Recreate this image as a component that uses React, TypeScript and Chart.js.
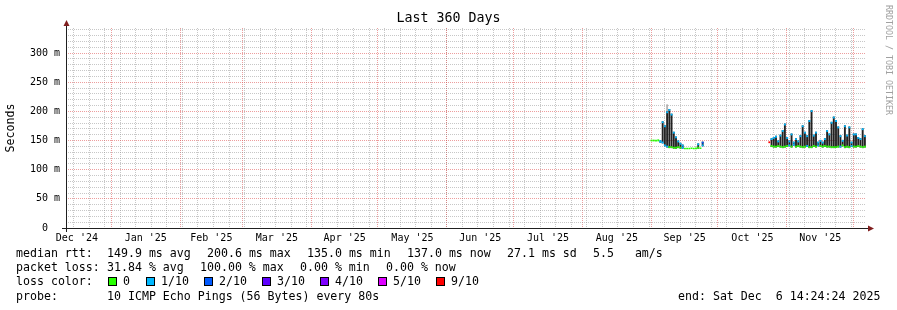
import React, { useEffect, useRef } from "react";
import { Chart, registerables } from "chart.js";

Chart.register(...registerables);

const W = 897;
const H = 310;
const MONO = "'DejaVu Sans Mono', 'Liberation Mono', monospace";

// ---------------- texts ----------------
const TITLE = "Last 360 Days";
const Y_TITLE = "Seconds";
const WATERMARK = "RRDTOOL / TOBI OETIKER";
const MEDIAN_HEAD = "median rtt:";
const MEDIAN_STATS = ["149.9 ms avg", "200.6 ms max", "135.0 ms min", "137.0 ms now", "27.1 ms sd", "5.5   am/s"];
const LOSS_HEAD = "packet loss:";
const LOSS_STATS = ["31.84 % avg", "100.00 % max", "0.00 % min", "0.00 % now"];
const COLOR_HEAD = "loss color:";
const LOSS_LABELS = ["0", "1/10", "2/10", "3/10", "4/10", "5/10", "9/10"];
const LOSS_COLORS = ["#26ff00", "#00b8ff", "#0059ff", "#5e00ff", "#7e00ff", "#dd00ff", "#ff0000"];
const PROBE_HEAD = "probe:";
const PROBE_TEXT = "10 ICMP Echo Pings (56 Bytes) every 80s";
const END_TEXT = "end: Sat Dec  6 14:24:24 2025";

// ---------------- axes ----------------
const START = Date.UTC(2024, 11, 11, 14, 24, 24);
const DAY_MS = 86400000;
const SPAN_DAYS = 360;
const Y_MAX = 342.86;
const MONTHS: [number, number][] = [
  [2024, 11], [2025, 0], [2025, 1], [2025, 2], [2025, 3], [2025, 4],
  [2025, 5], [2025, 6], [2025, 7], [2025, 8], [2025, 9], [2025, 10],
];
const MONTH_LABELS = ["Dec '24", "Jan '25", "Feb '25", "Mar '25", "Apr '25", "May '25", "Jun '25", "Jul '25", "Aug '25", "Sep '25", "Oct '25", "Nov '25"];
const Y_TICKS = [0, 10, 20, 30, 40, 50, 60, 70, 80, 90, 100, 110, 120, 130, 140, 150, 160, 170, 180, 190, 200, 210, 220, 230, 240, 250, 260, 270, 280, 290, 300, 310, 320, 330, 340];

// ---------------- data (day index since start, rtt in ms) ----------------
const DAYS = [
  263, 264, 265, 266, 267, 268, 269, 270, 271, 272, 273, 274, 275, 276, 277, 278, 279, 280, 281, 282, 283, 284, 285, 286,
  316, 317, 318, 319, 320, 321, 322, 323, 324, 325, 326, 327, 328, 329, 330, 331, 332, 333, 334, 335, 336, 337, 338, 339,
  340, 341, 342, 343, 344, 345, 346, 347, 348, 349, 350, 351, 352, 353, 354, 355, 356, 357, 358, 359,
];
const RTT_LOW = [
  148.5, 148.5, 148.5, 148.5, 146, 145, 140, 138, 137, 137, 136, 136, 137, 136, 136, 135, 135, 135, 135.5, 135, 135, 136, 135.5, 140,
  145.5, 139, 138, 138, 139, 138, 137, 138, 139, 140, 138, 141, 138, 139, 138, 137, 138, 139, 137, 137, 139, 138, 140, 139,
  138, 139, 138, 138, 137, 137, 137, 138, 138, 140, 137, 138, 137, 139, 138, 138, 139, 138, 137, 138,
];
const RTT_HIGH = [
  151.5, 151.5, 151.5, 152, 150.5, 183, 176, 200, 204, 196, 165, 157, 150, 146, 143, 137.5, 137.5, 137.5, 138, 137.5, 138, 145, 138, 148,
  148.5, 154, 156, 158, 150, 160, 168, 179, 156, 150, 162, 148, 154, 150, 159, 176, 165, 159, 185, 202, 160, 165, 148, 151,
  148, 154, 168, 162, 182, 191, 185, 174, 159, 151, 176, 160, 174, 148, 162, 162, 156, 154, 171, 159,
];
const LOSS_TOP = [
  0, 0, 0, 0, 1, 1, 1, 1, 1, 1, 1, 1, 1, 1, 1, 0, 0, 0, 0, 0, 0, 1, 0, 2,
  6, 1, 1, 1, 1, 1, 1, 1, 1, 1, 1, 1, 1, 1, 1, 1, 1, 1, 1, 1, 1, 1, 1, 1,
  1, 1, 1, 1, 1, 1, 1, 1, 1, 1, 1, 1, 1, 1, 1, 1, 1, 1, 1, 1,
];
const LOSS_BOTTOM = [
  0, 0, 0, 0, 1, 1, 1, 1, 0, 0, 0, 0, 0, 0, 1, 0, 0, 0, 0, 0, 0, 0, 0, 1,
  6, 0, 0, 0, 0, 0, 0, 0, 0, 1, 0, 1, 0, 0, 0, 0, 0, 1, 0, 0, 0, 0, 1, 0,
  0, 0, 0, 0, 0, 0, 0, 0, 1, 0, 0, 0, 0, 1, 0, 0, 0, 0, 0, 0,
];
const SMOKE_PEAK_DAYS = [270];
const SMOKE_PEAK = [212];

// ---------------- layout constants ----------------
const PLOT_LEFT = 66;
const PLOT_TOP = 28;
const PLOT_RIGHT_PAD = 31;
const X_AXIS_HEIGHT = 82;
const LINE_Y = [254, 268, 282, 296.5];
const HEAD_X = 16;
const MEDIAN_X = [107, 207, 307, 407, 507, 593];
const LOSS_X = [107, 200, 300, 386];
const SWATCH_X = [108, 146, 204, 262, 320, 378, 436];
const END_X = 678;

const MINOR_GRID = "rgba(143,143,143,0.5)";
const MAJOR_GRID = "rgba(222,79,79,0.55)";
const AXIS_COLOR = "#1f1f1f";
const ARROW_COLOR = "#801f1f";
const SMOKE_COLOR = "#222222";
const SMOKE_LIGHT = "#b4b4b4";

const dayOf = (y: number, m: number, d: number) => (Date.UTC(y, m, d) - START) / DAY_MS;

export default function App() {
  const ref = useRef<HTMLCanvasElement>(null);

  useEffect(() => {
    const canvas = ref.current;
    if (!canvas) return;

    const monthMid = MONTHS.map(([y, m]) => (dayOf(y, m, 1) + dayOf(y, m + 1, 1)) / 2);
    const monthStarts: number[] = [];
    for (let k = 0; k < 13; k++) {
      const d = dayOf(2025, k, 1);
      if (d > 0 && d < SPAN_DAYS) monthStarts.push(d);
    }
    const sundays: number[] = [];
    for (let d = dayOf(2024, 11, 15); d < SPAN_DAYS; d += 7) sundays.push(d);

    const capH = 3.2;
    const topCaps = DAYS.map((d, i) => {
      const lo = RTT_LOW[i], hi = RTT_HIGH[i];
      return { x: d + 0.5, y: hi - lo <= 4 ? [lo, hi] : [hi - capH, hi] };
    });
    const topColors = LOSS_TOP.map((c) => LOSS_COLORS[c]);
    const botIdx = DAYS.map((_, i) => i).filter((i) => LOSS_BOTTOM[i] >= 0 && RTT_HIGH[i] - RTT_LOW[i] > 4);
    const botCaps = botIdx.map((i) => ({ x: DAYS[i] + 0.5, y: [RTT_LOW[i], RTT_LOW[i] + capH] }));
    const botColors = botIdx.map((i) => LOSS_COLORS[LOSS_BOTTOM[i]]);
    const smokeIdx = DAYS.map((_, i) => i).filter((i) => RTT_HIGH[i] - RTT_LOW[i] > 4);
    const smoke = smokeIdx.map((i) => ({ x: DAYS[i] + 0.5, y: [RTT_LOW[i], RTT_HIGH[i]] }));
    const peaks = SMOKE_PEAK_DAYS.map((d, i) => {
      const j = DAYS.indexOf(d);
      return { x: d + 0.5, y: [RTT_HIGH[j] - 2, SMOKE_PEAK[i]] };
    });

    const decor = {
      id: "decor",
      afterDatasetsDraw(chart: any) {
        const { ctx, chartArea } = chart;
        const { left, right, top, bottom } = chartArea;
        ctx.save();
        ctx.strokeStyle = AXIS_COLOR;
        ctx.lineWidth = 1;
        ctx.beginPath();
        ctx.moveTo(left - 4, bottom + 0.5);
        ctx.lineTo(right + 4, bottom + 0.5);
        ctx.moveTo(left + 0.5, bottom + 4);
        ctx.lineTo(left + 0.5, top - 4);
        ctx.stroke();
        ctx.fillStyle = ARROW_COLOR;
        ctx.beginPath();
        ctx.moveTo(right + 2, bottom - 3 + 0.5);
        ctx.lineTo(right + 2, bottom + 3 + 0.5);
        ctx.lineTo(right + 8, bottom + 0.5);
        ctx.closePath();
        ctx.fill();
        ctx.beginPath();
        ctx.moveTo(left - 3 + 0.5, top - 2);
        ctx.lineTo(left + 3 + 0.5, top - 2);
        ctx.lineTo(left + 0.5, top - 8);
        ctx.closePath();
        ctx.fill();
        ctx.restore();
      },
      afterDraw(chart: any) {
        const { ctx } = chart;
        ctx.save();
        ctx.fillStyle = "#000";
        ctx.textBaseline = "middle";
        ctx.font = `13.3px ${MONO}`;
        ctx.textAlign = "center";
        ctx.fillText(TITLE, W / 2, 19);
        ctx.textAlign = "left";
        ctx.font = `11.6px ${MONO}`;
        ctx.fillText(MEDIAN_HEAD, HEAD_X, LINE_Y[0]);
        MEDIAN_STATS.forEach((t, i) => ctx.fillText(t, MEDIAN_X[i], LINE_Y[0]));
        ctx.fillText(LOSS_HEAD, HEAD_X, LINE_Y[1]);
        LOSS_STATS.forEach((t, i) => ctx.fillText(t, LOSS_X[i], LINE_Y[1]));
        ctx.fillText(COLOR_HEAD, HEAD_X, LINE_Y[2]);
        LOSS_LABELS.forEach((t, i) => {
          const x = SWATCH_X[i];
          ctx.fillStyle = "#000";
          ctx.fillRect(x, LINE_Y[2] - 5, 9, 9);
          ctx.fillStyle = LOSS_COLORS[i];
          ctx.fillRect(x + 1, LINE_Y[2] - 4, 7, 7);
          ctx.fillStyle = "#000";
          ctx.fillText(t, x + 15, LINE_Y[2]);
        });
        ctx.fillText(PROBE_HEAD, HEAD_X, LINE_Y[3]);
        ctx.fillText(PROBE_TEXT, MEDIAN_X[0], LINE_Y[3]);
        ctx.fillText(END_TEXT, END_X, LINE_Y[3]);
        ctx.save();
        ctx.translate(888, 5);
        ctx.rotate(Math.PI / 2);
        ctx.font = `8.3px ${MONO}`;
        ctx.fillStyle = "#a0a0a0";
        ctx.textAlign = "left";
        ctx.fillText(WATERMARK, 0, 0);
        ctx.restore();
        ctx.restore();
      },
    };

    const hiddenX = (ticks: number[], color: string) => ({
      type: "linear" as const,
      axis: "x" as const,
      position: "bottom" as const,
      min: 0,
      max: SPAN_DAYS,
      offset: false,
      afterBuildTicks: (s: any) => {
        s.ticks = ticks.map((v) => ({ value: v }));
      },
      afterFit: (s: any) => {
        s.height = 0;
      },
      grid: { color, lineWidth: 1, drawTicks: false, tickLength: 0, offset: false },
      border: { display: false, dash: [1, 1] },
      ticks: { display: false, autoSkip: false },
    });

    const chart = new Chart(canvas, {
      type: "bar",
      data: {
        datasets: [
          { label: "median top", data: topCaps as any, backgroundColor: topColors, order: 0 },
          { label: "median bottom", data: botCaps as any, backgroundColor: botColors, order: 0 },
          { label: "smoke", data: smoke as any, backgroundColor: SMOKE_COLOR, order: 1 },
          { label: "smoke peak", data: peaks as any, backgroundColor: SMOKE_LIGHT, order: 2 },
        ],
      },
      options: {
        animation: false,
        responsive: false,
        maintainAspectRatio: false,
        devicePixelRatio: 1,
        layout: { padding: { left: 0, right: PLOT_RIGHT_PAD, top: PLOT_TOP, bottom: 0 } },
        plugins: { legend: { display: false }, tooltip: { enabled: false }, title: { display: false } },
        datasets: { bar: { grouped: false, barPercentage: 0.85, categoryPercentage: 1, borderWidth: 0, inflateAmount: 0 } as any },
        scales: {
          xWeeks: hiddenX(sundays, MINOR_GRID) as any,
          xMonths: hiddenX(monthStarts, MAJOR_GRID) as any,
          x: {
            type: "linear",
            position: "bottom",
            min: 0,
            max: SPAN_DAYS,
            offset: false,
            afterBuildTicks: (s: any) => {
              s.ticks = monthMid.map((v) => ({ value: v }));
            },
            afterFit: (s: any) => {
              s.height = X_AXIS_HEIGHT;
            },
            grid: { display: false, drawTicks: false, offset: false },
            border: { display: false },
            ticks: {
              autoSkip: false,
              maxRotation: 0,
              minRotation: 0,
              padding: 4,
              color: "#000",
              font: { family: MONO, size: 10 },
              callback: (_v: any, i: number) => MONTH_LABELS[i],
            },
          },
          y: {
            type: "linear",
            position: "left",
            min: 0,
            max: Y_MAX,
            afterBuildTicks: (s: any) => {
              s.ticks = Y_TICKS.map((v) => ({ value: v }));
            },
            afterFit: (s: any) => {
              s.width = PLOT_LEFT;
            },
            grid: {
              lineWidth: 1,
              drawTicks: false,
              tickLength: 0,
              offset: false,
              color: (c: any) => (c.tick && c.tick.value % 50 === 0 ? MAJOR_GRID : MINOR_GRID),
            },
            border: { display: false, dash: [1, 1] },
            ticks: {
              autoSkip: false,
              padding: 6,
              color: "#000",
              font: { family: MONO, size: 10 },
              callback: (v: any) => {
                const n = Number(v);
                if (n % 50 !== 0) return "";
                return n === 0 ? "0  " : `${n} m`;
              },
            },
            title: {
              display: true,
              text: Y_TITLE,
              color: "#000",
              font: { family: MONO, size: 11.6 },
              padding: { top: 4, bottom: 0 },
            },
          },
        },
      },
      plugins: [decor],
    } as any);

    return () => chart.destroy();
  }, []);

  return (
    <div style={{ position: "absolute", left: 0, top: 0, width: W, height: H, background: "#fff" }}>
      <canvas ref={ref} width={W} height={H} style={{ display: "block", width: W, height: H }} />
    </div>
  );
}
